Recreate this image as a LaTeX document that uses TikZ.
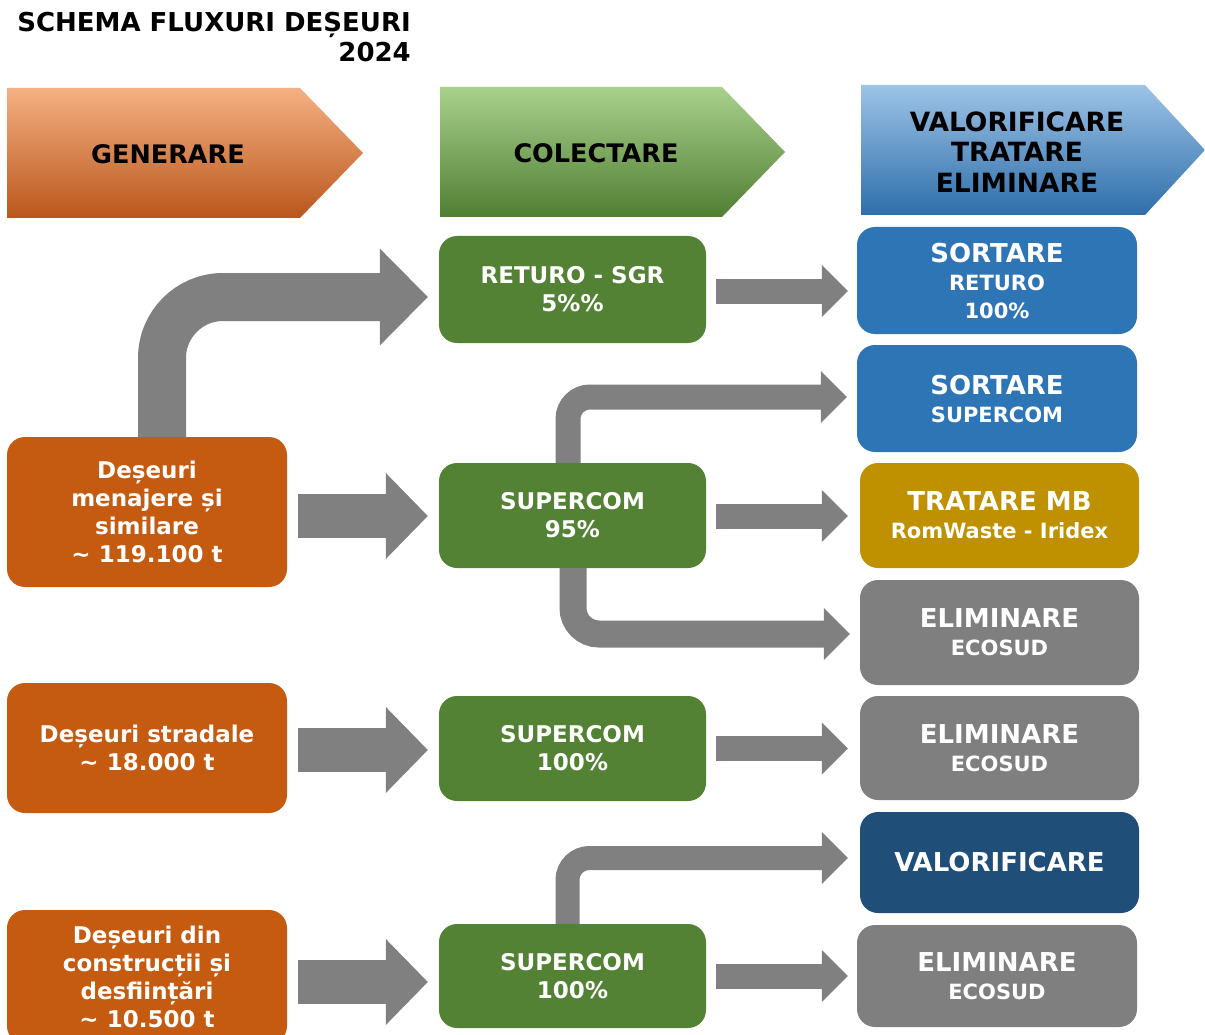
\documentclass[tikz,border=0pt]{standalone}
\usepackage{fontspec}
\setmainfont{DejaVu Sans}
\usetikzlibrary{arrows.meta,calc}
\definecolor{orgbox}{HTML}{C55A11}
\definecolor{grnbox}{HTML}{548235}
\definecolor{blubox}{HTML}{2E75B6}
\definecolor{goldbox}{HTML}{BF9000}
\definecolor{graybox}{HTML}{7F7F7F}
\definecolor{navybox}{HTML}{1F4E79}
\definecolor{arrgray}{HTML}{808080}
\definecolor{orgtop}{HTML}{F4B183}
\definecolor{orgmid}{HTML}{ED7D31}
\definecolor{orgbot}{HTML}{BA561C}
\definecolor{grntop}{HTML}{A9D18E}
\definecolor{grnmid}{HTML}{70AD47}
\definecolor{grnbot}{HTML}{507E32}
\definecolor{blutop}{HTML}{9DC3E6}
\definecolor{blumid}{HTML}{5B9BD5}
\definecolor{blubot}{HTML}{2E6EAA}
\newcommand\fsz[2]{\fontsize{#1}{#2}\selectfont}
\begin{document}
\begin{tikzpicture}[x=1pt,y=-1pt,
  box/.style={rounded corners=18pt, text=white, align=center, inner sep=0pt, font=\bfseries\fsz{23}{28}},
  rbox/.style={box, font=\bfseries\fsz{21}{28}},
  hdr/.style={font=\bfseries\fsz{25.5}{30.5}, text=black, align=center, inner sep=0pt},
  bigarr/.style={draw=arrgray, color=arrgray, line width=44pt, -{Triangle[length=42pt,width=86pt,line width=0pt]}},
  smallarr/.style={draw=arrgray, color=arrgray, line width=25pt, -{Triangle[length=26pt,width=52pt,line width=0pt]}},
  bentbig/.style={draw=arrgray, color=arrgray, line width=48pt, rounded corners=61pt, -{Triangle[length=48pt,width=97pt,line width=0pt]}},
  bentsmall/.style={draw=arrgray, color=arrgray, line width=25pt, rounded corners=22pt, -{Triangle[length=26pt,width=52pt,line width=0pt]}}
]
\useasboundingbox (0,0) rectangle (1205,1035);
\clip (0,0) rectangle (1205,1035);

% title
\node[anchor=north east, align=right, inner sep=0pt, font=\bfseries\fsz{26}{30}] (title) at (411,12) {SCHEMA FLUXURI DEȘEURI\\2024};

% header arrows
\shade[top color=orgtop, middle color=orgmid, bottom color=orgbot] (7,88) -- (300,88) -- (363,153) -- (300,218) -- (7,218) -- cycle;
\shade[top color=grntop, middle color=grnmid, bottom color=grnbot] (440,87) -- (722,87) -- (785,152) -- (722,217) -- (440,217) -- cycle;
\shade[top color=blutop, middle color=blumid, bottom color=blubot] (861,85) -- (1145,85) -- (1205,150) -- (1145,215) -- (861,215) -- cycle;
\node[hdr] (hgen) at (168,154) {GENERARE};
\node[hdr] (hcol) at (596,153) {COLECTARE};
\node[hdr, font=\bfseries\fsz{26.5}{30.5}] (hval) at (1017,152) {VALORIFICARE\\TRATARE\\ELIMINARE};

% left boxes
\node[box, fill=orgbox, minimum width=280pt, minimum height=150pt] (o1) at (147,512) {Deșeuri\\menajere și\\similare\\\textasciitilde{} 119.100 t};
\node[box, fill=orgbox, minimum width=280pt, minimum height=130pt] (o2) at (147,748) {Deșeuri stradale\\\textasciitilde{} 18.000 t};
\node[box, fill=orgbox, minimum width=280pt, minimum height=134pt] (o3) at (147,977) {Deșeuri din\\construcții și\\desființări\\\textasciitilde{} 10.500 t};

% middle boxes
\node[box, fill=grnbox, minimum width=267pt, minimum height=107pt] (g1) at (572.5,289.5) {RETURO - SGR\\5\%\%};
\node[box, fill=grnbox, minimum width=267pt, minimum height=105pt] (g2) at (572.5,515.5) {SUPERCOM\\95\%};
\node[box, fill=grnbox, minimum width=267pt, minimum height=105pt] (g3) at (572.5,748.5) {SUPERCOM\\100\%};
\node[box, fill=grnbox, minimum width=267pt, minimum height=104pt] (g4) at (572.5,976) {SUPERCOM\\100\%};

% right boxes
\node[rbox, fill=blubox, minimum width=280pt, minimum height=107pt] (b1) at (997,280.5) {{\fsz{26}{28}SORTARE}\\RETURO\\100\%};
\node[rbox, fill=blubox, minimum width=280pt, minimum height=107pt] (b2) at (997,398.5) {{\fsz{26}{28}SORTARE}\\SUPERCOM};
\node[rbox, fill=goldbox, minimum width=279pt, minimum height=105pt] (y1) at (999.5,515.5) {{\fsz{26}{28}TRATARE MB}\\RomWaste - Iridex};
\node[rbox, fill=graybox, minimum width=279pt, minimum height=105pt] (e1) at (999.5,632.5) {{\fsz{26}{28}ELIMINARE}\\ECOSUD};
\node[rbox, fill=graybox, minimum width=279pt, minimum height=104pt] (e2) at (999.5,748) {{\fsz{26}{28}ELIMINARE}\\ECOSUD};
\node[rbox, fill=navybox, minimum width=279pt, minimum height=101pt] (v1) at (999.5,862.5) {{\fsz{26}{28}VALORIFICARE}};
\node[rbox, fill=graybox, minimum width=280pt, minimum height=102pt] (e3) at (997,976) {{\fsz{26}{28}ELIMINARE}\\ECOSUD};

% straight arrows
\draw[bigarr] ($(o1.east |- g2.west)+(11,0.5)$) -- ($(g2.west)+(-11,0.5)$);
\draw[bigarr] ($(o2.east |- g3.west)+(11,1.5)$) -- ($(g3.west)+(-11,1.5)$);
\draw[bigarr] ($(o3.east |- g4.west)+(11,6)$) -- ($(g4.west)+(-11,6)$);
\draw[smallarr] ($(g1.east)+(10,1.5)$) -- ($(b1.west |- g1.east)+(-9,1.5)$);
\draw[smallarr] ($(g2.east)+(10,0.5)$) -- ($(y1.west |- g2.east)+(-12,0.5)$);
\draw[smallarr] ($(g3.east)+(10,0)$) -- ($(e2.west |- g3.east)+(-12,0)$);
\draw[smallarr] ($(g4.east)+(10,0)$) -- ($(e3.west |- g4.east)+(-9,0)$);

% bent arrows
\draw[bentbig] ($(o1.north)+(15,0)$) |- ($(g1.west)+(-11,7.5)$);
\draw[bentsmall] ($(g2.north)+(-4.5,0)$) |- ($(b2.west)+(-10,-1.5)$);
\draw[bentsmall, line width=27pt, rounded corners=26pt] ($(g2.south)+(0.5,0)$) |- ($(e1.west)+(-10,1.5)$);
\draw[bentsmall, line width=24pt] ($(g4.north)+(-5,0)$) |- ($(v1.west)+(-12,-4.5)$);
\end{tikzpicture}
\end{document}
